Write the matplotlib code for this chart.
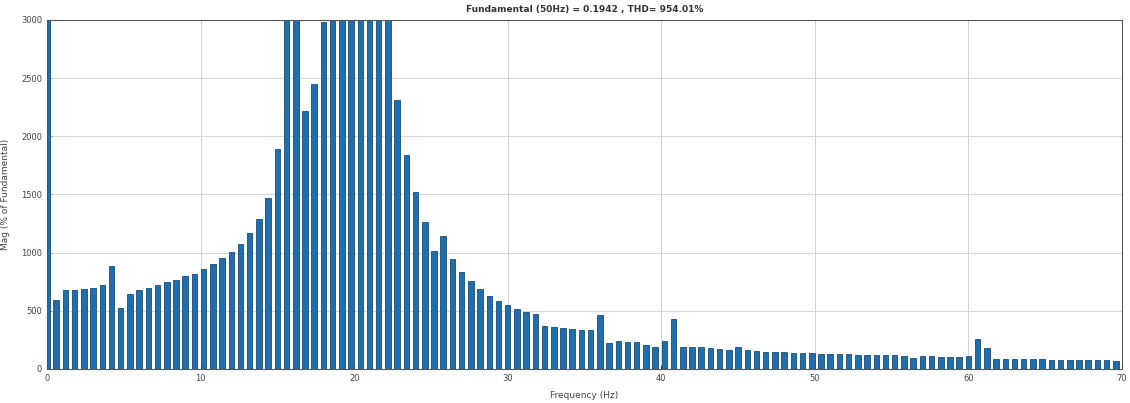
import numpy as np
import matplotlib
matplotlib.use("Agg")
import matplotlib.pyplot as plt

# FFT bins are spaced 0.6 Hz apart, starting at DC
bin_step = 0.6

# magnitude in % of fundamental (bars above 3000 are clipped)
mag = [3500,
       593, 679, 679, 688, 693, 722, 885, 522, 642, 679,
       699, 719, 745, 765, 797, 819, 860, 900, 951, 1006,
       1076, 1166, 1287, 1467, 1888, 3600, 3400, 2218, 2447, 2985,
       3300, 3700, 4100, 4300, 4000, 3600, 3200, 2312, 1840, 1524,
       1266, 1010, 1143, 943, 831, 759, 688, 630, 587, 553,
       516, 493, 473, 370, 358, 352, 344, 335, 335, 464,
       221, 243, 229, 229, 206, 186, 241, 427, 192, 190,
       186, 178, 172, 166, 186, 160, 152, 150, 146, 143,
       140, 137, 134, 132, 130, 128, 126, 124, 122, 120,
       118, 116, 114, 95, 110, 108, 106, 104, 102, 110,
       258, 180, 88, 86, 85, 84, 83, 82, 81, 80,
       79, 78, 77, 76, 74, 72]

freq = np.arange(len(mag)) * bin_step

title = "Fundamental (50Hz) = 0.1942 , THD= 954.01%"
xticks = [0, 10, 20, 30, 40, 50, 60, 70]
yticks = [0, 500, 1000, 1500, 2000, 2500, 3000]

fig = plt.figure(figsize=(11.3, 4.03), dpi=100)
ax = fig.add_axes([0.0416, 0.0844, 0.9513, 0.866])

ax.bar(freq, mag, width=0.36, color="#1f6fb0", edgecolor="#1a4c78",
       linewidth=0.6, zorder=2)

ax.set_xlim(0, 70)
ax.set_ylim(0, 3000)
ax.set_xticks(xticks)
ax.set_yticks(yticks)
ax.tick_params(direction="in", labelsize=6, colors="#444444", length=3)
ax.grid(True, color="#d4d4d4", linewidth=0.7, zorder=0)
for s in ax.spines.values():
    s.set_color("#555555")
    s.set_linewidth(0.8)

ax.set_xlabel("Frequency (Hz)", fontsize=6.5, color="#444444", labelpad=6)
ax.set_ylabel("Mag (% of Fundamental)", fontsize=6.5, color="#444444", labelpad=8)
ax.set_title(title, fontsize=6.5, fontweight="bold", color="#333333", pad=6)

fig.savefig("out.png", dpi=100)
